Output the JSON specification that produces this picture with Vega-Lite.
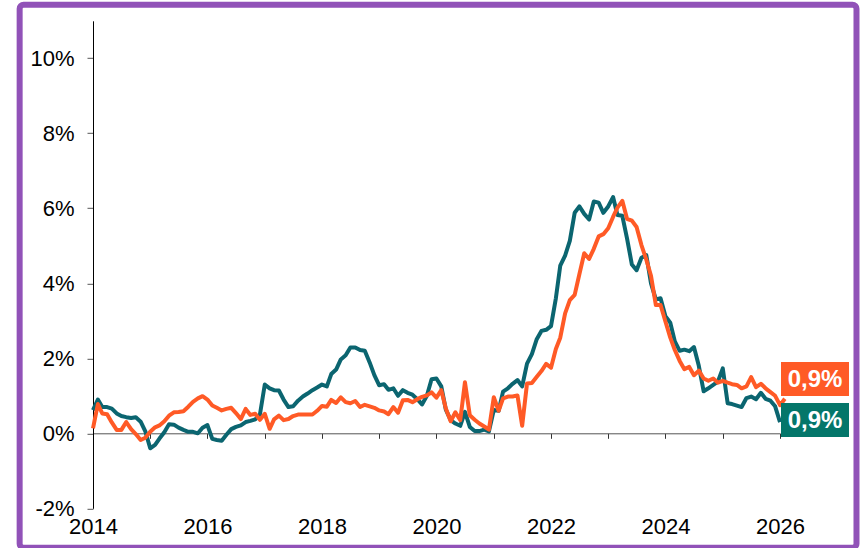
{
  "$schema": "https://vega.github.io/schema/vega-lite/v6.json",
  "width": 687,
  "height": 487.5,
  "autosize": {"type": "none"},
  "padding": {"left": 93, "top": 20.8, "right": 84, "bottom": 39.7},
  "background": "white",
  "config": {"view": {"stroke": null}, "font": "Liberation Sans"},
  "datasets": {
    "series": [
      {"d":"2014-01-01","a":0.62,"b":0.13},{"d":"2014-02-01","a":0.9,"b":0.78},{"d":"2014-03-01","a":0.7,"b":0.53},{"d":"2014-04-01","a":0.7,"b":0.51},{"d":"2014-05-01","a":0.66,"b":0.29},{"d":"2014-06-01","a":0.53,"b":0.09},{"d":"2014-07-01","a":0.46,"b":0.09},{"d":"2014-08-01","a":0.43,"b":0.3},{"d":"2014-09-01","a":0.41,"b":0.11},{"d":"2014-10-01","a":0.43,"b":-0.02},{"d":"2014-11-01","a":0.31,"b":-0.18},{"d":"2014-12-01","a":0.05,"b":-0.12},
      {"d":"2015-01-01","a":-0.4,"b":0.04},{"d":"2015-02-01","a":-0.31,"b":0.16},{"d":"2015-03-01","a":-0.14,"b":0.21},{"d":"2015-04-01","a":0.03,"b":0.32},{"d":"2015-05-01","a":0.24,"b":0.47},{"d":"2015-06-01","a":0.23,"b":0.56},{"d":"2015-07-01","a":0.15,"b":0.57},{"d":"2015-08-01","a":0.09,"b":0.59},{"d":"2015-09-01","a":0.04,"b":0.71},{"d":"2015-10-01","a":0.04,"b":0.84},{"d":"2015-11-01","a":0.0,"b":0.93},{"d":"2015-12-01","a":0.15,"b":0.99},
      {"d":"2016-01-01","a":0.22,"b":0.9},{"d":"2016-02-01","a":-0.15,"b":0.74},{"d":"2016-03-01","a":-0.18,"b":0.68},{"d":"2016-04-01","a":-0.2,"b":0.61},{"d":"2016-05-01","a":-0.04,"b":0.65},{"d":"2016-06-01","a":0.11,"b":0.68},{"d":"2016-07-01","a":0.17,"b":0.54},{"d":"2016-08-01","a":0.21,"b":0.38},{"d":"2016-09-01","a":0.3,"b":0.65},{"d":"2016-10-01","a":0.33,"b":0.49},{"d":"2016-11-01","a":0.37,"b":0.52},{"d":"2016-12-01","a":0.5,"b":0.36},
      {"d":"2017-01-01","a":1.3,"b":0.52},{"d":"2017-02-01","a":1.2,"b":0.12},{"d":"2017-03-01","a":1.15,"b":0.37},{"d":"2017-04-01","a":1.14,"b":0.47},{"d":"2017-05-01","a":0.9,"b":0.35},{"d":"2017-06-01","a":0.7,"b":0.38},{"d":"2017-07-01","a":0.72,"b":0.46},{"d":"2017-08-01","a":0.87,"b":0.5},{"d":"2017-09-01","a":0.98,"b":0.5},{"d":"2017-10-01","a":1.06,"b":0.5},{"d":"2017-11-01","a":1.15,"b":0.5},{"d":"2017-12-01","a":1.22,"b":0.6},
      {"d":"2018-01-01","a":1.3,"b":0.73},{"d":"2018-02-01","a":1.25,"b":0.71},{"d":"2018-03-01","a":1.58,"b":0.89},{"d":"2018-04-01","a":1.7,"b":0.81},{"d":"2018-05-01","a":1.97,"b":0.96},{"d":"2018-06-01","a":2.08,"b":0.83},{"d":"2018-07-01","a":2.29,"b":0.8},{"d":"2018-08-01","a":2.29,"b":0.86},{"d":"2018-09-01","a":2.22,"b":0.7},{"d":"2018-10-01","a":2.2,"b":0.76},{"d":"2018-11-01","a":1.89,"b":0.72},{"d":"2018-12-01","a":1.55,"b":0.68},
      {"d":"2019-01-01","a":1.28,"b":0.61},{"d":"2019-02-01","a":1.31,"b":0.58},{"d":"2019-03-01","a":1.16,"b":0.51},{"d":"2019-04-01","a":1.2,"b":0.7},{"d":"2019-05-01","a":1.0,"b":0.55},{"d":"2019-06-01","a":1.15,"b":0.88},{"d":"2019-07-01","a":1.08,"b":0.89},{"d":"2019-08-01","a":1.03,"b":0.83},{"d":"2019-09-01","a":0.91,"b":0.91},{"d":"2019-10-01","a":0.77,"b":0.97},{"d":"2019-11-01","a":1.0,"b":1.01},{"d":"2019-12-01","a":1.44,"b":1.09},
      {"d":"2020-01-01","a":1.46,"b":0.95},{"d":"2020-02-01","a":1.25,"b":1.15},{"d":"2020-03-01","a":0.63,"b":0.66},{"d":"2020-04-01","a":0.35,"b":0.32},{"d":"2020-05-01","a":0.26,"b":0.56},{"d":"2020-06-01","a":0.2,"b":0.35},{"d":"2020-07-01","a":0.57,"b":1.36},{"d":"2020-08-01","a":0.17,"b":0.48},{"d":"2020-09-01","a":0.06,"b":0.36},{"d":"2020-10-01","a":0.06,"b":0.26},{"d":"2020-11-01","a":0.1,"b":0.18},{"d":"2020-12-01","a":0.05,"b":0.1},
      {"d":"2021-01-01","a":0.62,"b":0.96},{"d":"2021-02-01","a":0.6,"b":0.6},{"d":"2021-03-01","a":1.11,"b":0.93},{"d":"2021-04-01","a":1.2,"b":0.98},{"d":"2021-05-01","a":1.32,"b":0.98},{"d":"2021-06-01","a":1.42,"b":1.01},{"d":"2021-07-01","a":1.25,"b":0.2},{"d":"2021-08-01","a":1.86,"b":1.33},{"d":"2021-09-01","a":2.11,"b":1.34},{"d":"2021-10-01","a":2.5,"b":1.5},{"d":"2021-11-01","a":2.73,"b":1.66},{"d":"2021-12-01","a":2.76,"b":1.85},
      {"d":"2022-01-01","a":2.86,"b":1.75},{"d":"2022-02-01","a":3.6,"b":2.25},{"d":"2022-03-01","a":4.47,"b":2.55},{"d":"2022-04-01","a":4.74,"b":3.2},{"d":"2022-05-01","a":5.13,"b":3.55},{"d":"2022-06-01","a":5.88,"b":3.69},{"d":"2022-07-01","a":6.05,"b":4.24},{"d":"2022-08-01","a":5.85,"b":4.8},{"d":"2022-09-01","a":5.7,"b":4.65},{"d":"2022-10-01","a":6.18,"b":4.92},{"d":"2022-11-01","a":6.15,"b":5.25},{"d":"2022-12-01","a":5.88,"b":5.31},
      {"d":"2023-01-01","a":6.05,"b":5.47},{"d":"2023-02-01","a":6.3,"b":5.77},{"d":"2023-03-01","a":5.82,"b":6.02},{"d":"2023-04-01","a":5.8,"b":6.2},{"d":"2023-05-01","a":5.2,"b":5.72},{"d":"2023-06-01","a":4.5,"b":5.67},{"d":"2023-07-01","a":4.35,"b":5.5},{"d":"2023-08-01","a":4.68,"b":5.02},{"d":"2023-09-01","a":4.75,"b":4.63},{"d":"2023-10-01","a":4.0,"b":4.2},{"d":"2023-11-01","a":3.57,"b":3.42},{"d":"2023-12-01","a":3.6,"b":3.42},
      {"d":"2024-01-01","a":3.12,"b":2.98},{"d":"2024-02-01","a":2.95,"b":2.55},{"d":"2024-03-01","a":2.45,"b":2.22},{"d":"2024-04-01","a":2.2,"b":1.93},{"d":"2024-05-01","a":2.23,"b":1.71},{"d":"2024-06-01","a":2.19,"b":1.77},{"d":"2024-07-01","a":2.3,"b":1.55},{"d":"2024-08-01","a":1.8,"b":1.67},{"d":"2024-09-01","a":1.12,"b":1.46},{"d":"2024-10-01","a":1.2,"b":1.4},{"d":"2024-11-01","a":1.29,"b":1.46},{"d":"2024-12-01","a":1.38,"b":1.35},
      {"d":"2025-01-01","a":1.73,"b":1.4},{"d":"2025-02-01","a":0.8,"b":1.35},{"d":"2025-03-01","a":0.78,"b":1.31},{"d":"2025-04-01","a":0.74,"b":1.29},{"d":"2025-05-01","a":0.7,"b":1.2},{"d":"2025-06-01","a":0.94,"b":1.25},{"d":"2025-07-01","a":0.98,"b":1.5},{"d":"2025-08-01","a":0.91,"b":1.23},{"d":"2025-09-01","a":1.08,"b":1.32},{"d":"2025-10-01","a":0.92,"b":1.2},{"d":"2025-11-01","a":0.87,"b":1.1},{"d":"2025-12-01","a":0.72,"b":1.0},
      {"d":"2026-01-01","a":0.3,"b":0.75},{"d":"2026-02-01","b":0.92}
    ]
  },
  "layer": [
    {
      "data": {"values": [{}]},
      "mark": {"type": "rect", "filled": false, "color": "#9152b8", "strokeWidth": 6, "cornerRadius": 4, "clip": false},
      "encoding": {
        "x": {"datum": {"year": 2012, "month": 9, "date": 20}, "type": "temporal", "scale": {"domain": [{"year": 2014, "month": 1, "date": 1}, {"year": 2026, "month": 1, "date": 1}]}},
        "x2": {"datum": {"year": 2027, "month": 5, "date": 4}},
        "y": {"datum": 11.43, "type": "quantitative", "scale": {"domain": [-2, 11], "nice": false}},
        "y2": {"datum": -3.05}
      }
    },
    {
      "data": {"name": "series"},
      "transform": [{"fold": ["a", "b"], "as": ["s", "v"]}],
      "mark": {"type": "line", "strokeWidth": 4, "clip": false, "strokeJoin": "round"},
      "encoding": {
        "x": {
          "field": "d", "type": "temporal",
          "scale": {"domain": [{"year": 2014, "month": 1, "date": 1}, {"year": 2026, "month": 1, "date": 1}]},
          "axis": {
            "title": null, "grid": false, "offset": -75,
            "values": [{"year": 2014}, {"year": 2015}, {"year": 2016}, {"year": 2017}, {"year": 2018}, {"year": 2019}, {"year": 2020}, {"year": 2021}, {"year": 2022}, {"year": 2023}, {"year": 2024}, {"year": 2025}, {"year": 2026}],
            "labelExpr": "year(datum.value) % 2 == 0 ? timeFormat(datum.value, '%Y') : ''",
            "labelOverlap": false, "labelFlush": false,
            "labelPadding": 78, "tickSize": 5, "domainColor": "#555555", "tickColor": "#333333",
            "labelFontSize": 22, "labelColor": "#000000", "labelFont": "Liberation Sans"
          }
        },
        "y": {
          "field": "v", "type": "quantitative",
          "scale": {"domain": [-2, 11], "nice": false},
          "axis": {
            "title": null, "grid": false,
            "values": [-2, 0, 2, 4, 6, 8, 10],
            "labelExpr": "datum.value + '%'",
            "tickSize": 6, "labelPadding": 13, "domainColor": "#000000", "tickColor": "#555555",
            "labelFontSize": 22, "labelColor": "#000000", "labelFont": "Liberation Sans", "labelFlush": false
          }
        },
        "color": {"field": "s", "type": "nominal", "scale": {"domain": ["a", "b"], "range": ["#0b6570", "#ff5a26"]}, "legend": null}
      }
    },
    {
      "data": {"values": [{"d": "2026-01-01", "v": 0.9, "label": "0,9%"}]},
      "mark": {"type": "point", "shape": "M0,-0.5H2V0.5H0Z", "size": 4624, "filled": true, "opacity": 1, "strokeWidth": 0, "color": "#ff5a26", "xOffset": 1, "yOffset": -20.5, "clip": false},
      "encoding": {
        "x": {"field": "d", "type": "temporal", "scale": {"domain": [{"year": 2014, "month": 1, "date": 1}, {"year": 2026, "month": 1, "date": 1}]}},
        "y": {"field": "v", "type": "quantitative", "scale": {"domain": [-2, 11], "nice": false}}
      }
    },
    {
      "data": {"values": [{"d": "2026-01-01", "v": 0.9, "label": "0,9%"}]},
      "mark": {"type": "text", "color": "#ffffff", "fontSize": 24, "fontWeight": "bold", "font": "Liberation Sans", "align": "center", "baseline": "middle", "xOffset": 35, "yOffset": -19.5, "clip": false},
      "encoding": {
        "x": {"field": "d", "type": "temporal", "scale": {"domain": [{"year": 2014, "month": 1, "date": 1}, {"year": 2026, "month": 1, "date": 1}]}},
        "y": {"field": "v", "type": "quantitative", "scale": {"domain": [-2, 11], "nice": false}},
        "text": {"field": "label"}
      }
    },
    {
      "data": {"values": [{"d": "2026-01-01", "v": 0.9, "label": "0,9%"}]},
      "mark": {"type": "point", "shape": "M0,-0.5H2V0.5H0Z", "size": 4624, "filled": true, "opacity": 1, "strokeWidth": 0, "color": "#04766a", "xOffset": 1, "yOffset": 20.5, "clip": false},
      "encoding": {
        "x": {"field": "d", "type": "temporal", "scale": {"domain": [{"year": 2014, "month": 1, "date": 1}, {"year": 2026, "month": 1, "date": 1}]}},
        "y": {"field": "v", "type": "quantitative", "scale": {"domain": [-2, 11], "nice": false}}
      }
    },
    {
      "data": {"values": [{"d": "2026-01-01", "v": 0.9, "label": "0,9%"}]},
      "mark": {"type": "text", "color": "#ffffff", "fontSize": 24, "fontWeight": "bold", "font": "Liberation Sans", "align": "center", "baseline": "middle", "xOffset": 35, "yOffset": 21.5, "clip": false},
      "encoding": {
        "x": {"field": "d", "type": "temporal", "scale": {"domain": [{"year": 2014, "month": 1, "date": 1}, {"year": 2026, "month": 1, "date": 1}]}},
        "y": {"field": "v", "type": "quantitative", "scale": {"domain": [-2, 11], "nice": false}},
        "text": {"field": "label"}
      }
    }
  ]
}
